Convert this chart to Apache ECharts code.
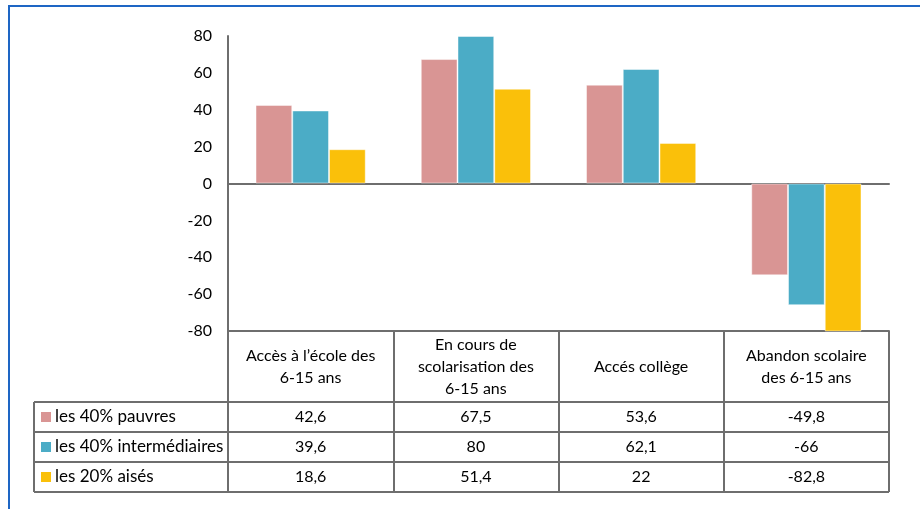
<!DOCTYPE html>
<html>
<head>
<meta charset="utf-8">
<script src="https://cdn.jsdelivr.net/npm/echarts@6/dist/echarts.min.js"></script>
<style>
  html, body { margin: 0; padding: 0; background: #fff; }
  #chart { width: 920px; height: 509px; }
</style>
</head>
<body>
<div id="chart"></div>
<script>
// Indicators (column headers of the data table)
const categories = [
  "Accès à l\u2019école des\n6-15 ans",
  "En cours de\nscolarisation des\n6-15 ans",
  "Accés collège",
  "Abandon scolaire\ndes 6-15 ans"
];
// Population groups
const seriesNames = ["les 40% pauvres", "les 40% intermédiaires", "les 20% aisés"];
const pauvres = [42.6, 67.5, 53.6, -49.8];
const intermediaires = [39.6, 80, 62.1, -66];
const aises = [18.6, 51.4, 22, -82.8];
const yTicks = { min: -80, max: 80, step: 20 };

const colors = ["#D99594", "#4BACC6", "#FAC00A"];
const FONT = "Lato, 'Open Sans', sans-serif";
const LINE = "#6E6E6E";
const TEXT = "#000";

const chart = echarts.init(document.getElementById("chart"));
const seriesData = [pauvres, intermediaires, aises];
const fmt = v => String(v).replace(".", ",");

chart.setOption({
  animation: false,
  grid: { left: 228, right: 31, top: 36, bottom: 178 },
  xAxis: [
    {
      type: "category", data: categories,
      axisLine: { onZero: true, lineStyle: { color: LINE, width: 2 } },
      axisTick: { show: false }, axisLabel: { show: false }
    },
    {
      type: "category", data: categories, position: "bottom",
      axisLine: { onZero: false, lineStyle: { color: LINE, width: 2 } },
      axisTick: { show: true, length: 161, lineStyle: { color: LINE, width: 2 } },
      axisLabel: {
        interval: 0, margin: 36, verticalAlign: "middle",
        fontFamily: FONT, fontSize: 16, color: TEXT, lineHeight: 22, align: "center"
      }
    }
  ],
  yAxis: {
    type: "value", min: yTicks.min, max: yTicks.max, interval: yTicks.step,
    axisLine: { show: true, lineStyle: { color: LINE, width: 2 } },
    axisTick: { show: false }, splitLine: { show: false },
    axisLabel: { fontFamily: FONT, fontSize: 16, color: TEXT, margin: 16 }
  },
  series: seriesNames.map((name, k) => ({
    name, type: "bar", data: seriesData[k], xAxisIndex: 0,
    barGap: 0, barCategoryGap: "33.3%",
    itemStyle: { color: colors[k], borderColor: "rgba(255,255,255,0.45)", borderWidth: 1 }
  }))
});

// Data table rows under the plot
function drawTable() {
  const bottomY = chart.convertToPixel({ yAxisIndex: 0 }, yTicks.min);
  const x0 = chart.convertToPixel({ xAxisIndex: 0 }, 0);
  const x3 = chart.convertToPixel({ xAxisIndex: 0 }, 3);
  const half = (x3 - x0) / 6;
  const rightEdge = x3 + half;
  const headerH = 71, rowH = 30, tableLeft = 34;
  const elements = [];

  // outer frame of the figure
  elements.push({
    type: "polyline", shape: { points: [[9, 509], [9, 6], [920, 6]] },
    style: { stroke: "#1E66C4", lineWidth: 2, fill: null }
  });

  const firstRowTop = bottomY + headerH;
  for (let r = 0; r <= 3; r++) {
    const y = firstRowTop + r * rowH;
    elements.push({
      type: "line", shape: { x1: tableLeft, y1: y, x2: rightEdge, y2: y },
      style: { stroke: LINE, lineWidth: 2 }
    });
  }
  elements.push({
    type: "line", shape: { x1: tableLeft, y1: firstRowTop, x2: tableLeft, y2: firstRowTop + 3 * rowH },
    style: { stroke: LINE, lineWidth: 2 }
  });

  seriesNames.forEach((name, k) => {
    const cy = firstRowTop + k * rowH + rowH / 2;
    elements.push({
      type: "rect", shape: { x: 41, y: cy - 5, width: 10, height: 10 },
      style: { fill: colors[k] }
    });
    elements.push({
      type: "text", x: 55, y: cy,
      style: { text: name, font: "17px " + FONT, fill: TEXT, verticalAlign: "middle" }
    });
    seriesData[k].forEach((v, i) => {
      const cx = chart.convertToPixel({ xAxisIndex: 0 }, i);
      elements.push({
        type: "text", x: cx, y: cy,
        style: { text: fmt(v), font: "16px " + FONT, fill: TEXT, align: "center", verticalAlign: "middle" }
      });
    });
  });

  chart.setOption({ graphic: { elements } });
}
drawTable();
</script>
</body>
</html>
